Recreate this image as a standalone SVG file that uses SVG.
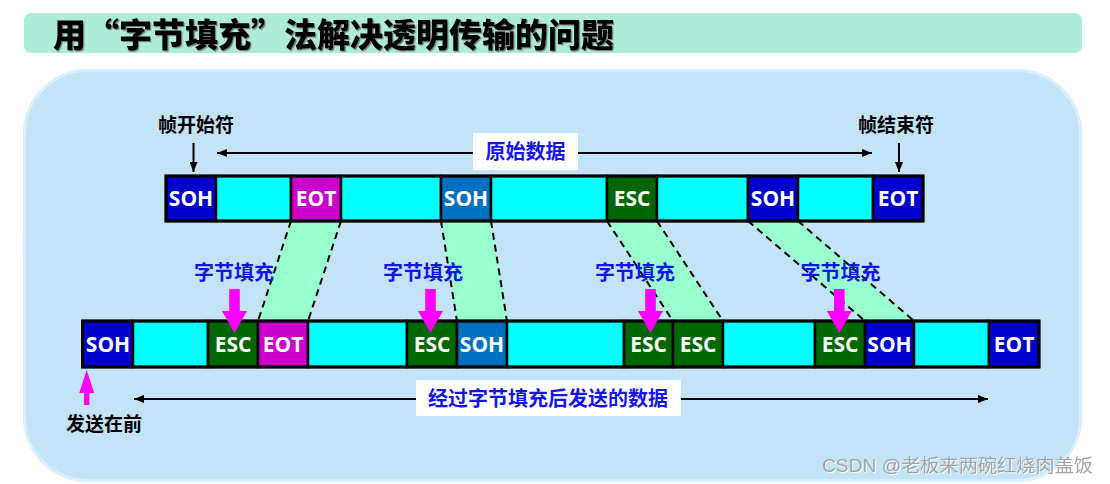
<svg xmlns="http://www.w3.org/2000/svg" width="1110" height="484" viewBox="0 0 1110 484">
<style>
.cjk{font-family:"Noto Sans CJK SC","Noto Sans",sans-serif;font-weight:bold}
.lbl{font-size:19px;fill:#000}
.blue{fill:#1414f0;font-size:20px}
.cell{stroke:#000;stroke-width:2.5}
.ct{font-family:"Open Sans","Liberation Sans",sans-serif;font-weight:bold;font-size:21px;fill:#fff;text-anchor:middle}
.soh{fill:#0000cc}.soh2{fill:#0070c0}.eot{fill:#cc00cc}.esc{fill:#006600}.dat{fill:#00ffff}
.band{fill:#99ffcc}
.dash{stroke:#000;stroke-width:2;stroke-dasharray:7 5;fill:none}
.line{stroke:#000;stroke-width:2;fill:none}
.pk{fill:#ff00ff}
</style>
<defs>
<marker id="ah" viewBox="0 0 10 8" refX="10" refY="4" markerWidth="10" markerHeight="8" markerUnits="userSpaceOnUse" orient="auto-start-reverse">
<path d="M0,0 L10,4 L0,8 z" fill="#000"/>
</marker>
<filter id="sh" x="-5%" y="-20%" width="110%" height="140%">
<feDropShadow dx="1.2" dy="1.2" stdDeviation="0.6" flood-color="#555" flood-opacity="0.7"/>
</filter>
<filter id="wm" x="-5%" y="-20%" width="110%" height="140%">
<feDropShadow dx="1" dy="1" stdDeviation="0.4" flood-color="#fff" flood-opacity="0.9"/>
</filter>
</defs>

<g id="title">
<rect x="24" y="13" width="1058" height="40" rx="7" fill="#aeebd8"/>
<text x="53" y="47" font-family="Noto Sans CJK SC,sans-serif" font-weight="900" font-size="33" fill="#000" filter="url(#sh)">用“字节填充”法解决透明传输的问题</text>
</g>

<g id="panel">
<rect x="23" y="69" width="1059" height="413" rx="65" fill="#c3e3f7"/>
<rect x="24.5" y="70.5" width="1056" height="410" rx="64" fill="none" stroke="#d9f1ff" stroke-width="2.5"/>
</g>

<g id="bands">
<polygon class="band" points="291,221 341,221 308,321 258,321"/>
<polygon class="band" points="441,221 491,221 507,321 457,321"/>
<polygon class="band" points="607,221 657,221 723,321 673,321"/>
<polygon class="band" points="748,221 798,221 914,321 865,321"/>
</g>

<g id="connectors">
<line class="dash" x1="291" y1="221" x2="258" y2="321"/>
<line class="dash" x1="341" y1="221" x2="308" y2="321"/>
<line class="dash" x1="441" y1="221" x2="457" y2="321"/>
<line class="dash" x1="491" y1="221" x2="507" y2="321"/>
<line class="dash" x1="607" y1="221" x2="673" y2="321"/>
<line class="dash" x1="657" y1="221" x2="723" y2="321"/>
<line class="dash" x1="748" y1="221" x2="865" y2="321"/>
<line class="dash" x1="798" y1="221" x2="914" y2="321"/>
<line class="line" x1="193.5" y1="143" x2="193.5" y2="172" marker-end="url(#ah)"/>
<line class="line" x1="899" y1="143" x2="899" y2="172" marker-end="url(#ah)"/>
<line class="line" x1="217" y1="153" x2="872" y2="153" marker-start="url(#ah)" marker-end="url(#ah)"/>
<line class="line" x1="134" y1="399" x2="988" y2="399" marker-start="url(#ah)" marker-end="url(#ah)"/>
</g>

<g id="frame-labels">
<text x="196" y="132" class="cjk lbl" text-anchor="middle">帧开始符</text>
<text x="896" y="132" class="cjk lbl" text-anchor="middle">帧结束符</text>
</g>

<g id="original-label">
<rect x="473" y="133" width="105" height="37" fill="#fff"/>
<text x="525.5" y="159" class="cjk blue" text-anchor="middle">原始数据</text>
</g>

<g id="stuffed-label">
<rect x="416" y="380" width="265" height="36" fill="#fff"/>
<text x="548" y="405.5" class="cjk blue" text-anchor="middle">经过字节填充后发送的数据</text>
</g>

<g id="original-frame">
<rect class="cell soh" x="166" y="176" width="50" height="45"/>
<rect class="cell dat" x="216" y="176" width="75" height="45"/>
<rect class="cell eot" x="291" y="176" width="50" height="45"/>
<rect class="cell dat" x="341" y="176" width="100" height="45"/>
<rect class="cell soh2" x="441" y="176" width="50" height="45"/>
<rect class="cell dat" x="491" y="176" width="116" height="45"/>
<rect class="cell esc" x="607" y="176" width="50" height="45"/>
<rect class="cell dat" x="657" y="176" width="91" height="45"/>
<rect class="cell soh" x="748" y="176" width="50" height="45"/>
<rect class="cell dat" x="798" y="176" width="75" height="45"/>
<rect class="cell soh" x="873" y="176" width="50" height="45"/>
<rect x="166" y="176" width="757" height="45" fill="none" stroke="#000" stroke-width="3"/>
<text class="ct" x="191" y="206">SOH</text>
<text class="ct" x="316" y="206">EOT</text>
<text class="ct" x="466" y="206">SOH</text>
<text class="ct" x="632" y="206">ESC</text>
<text class="ct" x="773" y="206">SOH</text>
<text class="ct" x="898" y="206">EOT</text>
</g>

<g id="stuffed-frame">
<rect class="cell soh" x="82.5" y="321" width="50.5" height="46"/>
<rect class="cell dat" x="133" y="321" width="75" height="46"/>
<rect class="cell esc" x="208" y="321" width="50" height="46"/>
<rect class="cell eot" x="258" y="321" width="50" height="46"/>
<rect class="cell dat" x="308" y="321" width="99" height="46"/>
<rect class="cell esc" x="407" y="321" width="50" height="46"/>
<rect class="cell soh2" x="457" y="321" width="50" height="46"/>
<rect class="cell dat" x="507" y="321" width="117" height="46"/>
<rect class="cell esc" x="624" y="321" width="49" height="46"/>
<rect class="cell esc" x="673" y="321" width="50" height="46"/>
<rect class="cell dat" x="723" y="321" width="92" height="46"/>
<rect class="cell esc" x="815" y="321" width="50" height="46"/>
<rect class="cell soh" x="865" y="321" width="49" height="46"/>
<rect class="cell dat" x="914" y="321" width="75" height="46"/>
<rect class="cell soh" x="989" y="321" width="50" height="46"/>
<rect x="82.5" y="321" width="956.5" height="46" fill="none" stroke="#000" stroke-width="3"/>
<text class="ct" x="108" y="352">SOH</text>
<text class="ct" x="233" y="352">ESC</text>
<text class="ct" x="283" y="352">EOT</text>
<text class="ct" x="432" y="352">ESC</text>
<text class="ct" x="482" y="352">SOH</text>
<text class="ct" x="648.5" y="352">ESC</text>
<text class="ct" x="698" y="352">ESC</text>
<text class="ct" x="840" y="352">ESC</text>
<text class="ct" x="889.5" y="352">SOH</text>
<text class="ct" x="1014" y="352">EOT</text>
</g>

<g id="stuffing-1">
<text x="234" y="279.5" class="cjk blue" text-anchor="middle">字节填充</text>
<polygon class="pk" points="229.2,289 239.8,289 239.8,311 247,311 234.5,333 222,311 229.2,311"/>
</g>
<g id="stuffing-2">
<text x="423" y="279.5" class="cjk blue" text-anchor="middle">字节填充</text>
<polygon class="pk" points="425.2,289 435.8,289 435.8,311 443,311 430.5,333 418,311 425.2,311"/>
</g>
<g id="stuffing-3">
<text x="635" y="279.5" class="cjk blue" text-anchor="middle">字节填充</text>
<polygon class="pk" points="645.2,289 655.8,289 655.8,311 663,311 650.5,333 638,311 645.2,311"/>
</g>
<g id="stuffing-4">
<text x="840.5" y="279.5" class="cjk blue" text-anchor="middle">字节填充</text>
<polygon class="pk" points="834,289 844.6,289 844.6,311 851.8,311 839.3,333 826.8,311 834,311"/>
</g>

<g id="send-first">
<polygon class="pk" points="86.7,370 94.2,393 89.4,393 89.4,405 84,405 84,393 79.2,393"/>
<text x="104" y="431" class="cjk lbl" text-anchor="middle">发送在前</text>
</g>

<g id="watermark">
<text x="822" y="472" font-family="Liberation Sans,'Noto Sans CJK SC',sans-serif" font-size="18" textLength="271" lengthAdjust="spacingAndGlyphs" fill="#a3a3a3" filter="url(#wm)">CSDN @老板来两碗红烧肉盖饭</text>
</g>
</svg>
